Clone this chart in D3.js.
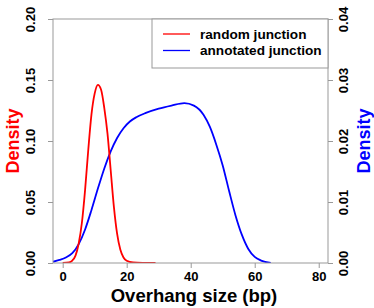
<!DOCTYPE html>
<html>
<head>
<meta charset="utf-8">
<script src="https://cdn.jsdelivr.net/npm/d3@7"></script>
<style>
  body { margin: 0; background: #fff; }
  text { font-family: "Liberation Sans", Arial, sans-serif; font-weight: bold; }
</style>
</head>
<body>
<svg id="chart"></svg>
<script>
// values
const redX = [0, 2, 3, 4, 5, 6, 7, 8, 9, 10, 11, 12, 13, 14, 15, 16, 17, 18, 19, 20, 22, 25, 29];
const redY = [0, 0.0005, 0.002, 0.006, 0.016, 0.033, 0.060, 0.093, 0.122, 0.139, 0.146, 0.142, 0.127, 0.106, 0.076, 0.046, 0.024, 0.011, 0.0045, 0.0018, 0.0004, 0.0001, 0];

const blueX = [-3, -1, 1, 3, 5, 7, 9, 11, 13, 15, 17, 19, 21, 23, 26, 30, 34, 38, 41, 44, 46, 48, 50, 52, 54, 56, 58, 60, 62, 65];
const blueY = [0.0002, 0.0005, 0.0009, 0.0016, 0.0031, 0.0055, 0.0087, 0.0122, 0.0155, 0.0183, 0.0205, 0.0221, 0.0232, 0.0239, 0.0246, 0.0253, 0.0258, 0.0262, 0.0258, 0.0243, 0.0223, 0.0194, 0.0160, 0.0118, 0.0078, 0.0046, 0.0023, 0.0010, 0.0004, 0];

const xTicks = [0, 20, 40, 60, 80];
const leftTicks = [0, 0.05, 0.10, 0.15, 0.20];
const rightTicks = [0, 0.01, 0.02, 0.03, 0.04];
const legendLabels = ['random junction', 'annotated junction'];
const legendColors = ['#ff0000', '#0000ff'];

const size = {w: 374, h: 308};
const plot = {l: 53, r: 328, t: 19, b: 263};
const axisColor = '#999';

const svg = d3.select('svg#chart')
    .attr('width', size.w)
    .attr('height', size.h);

svg.append('rect').attr('width', size.w).attr('height', size.h).attr('fill', '#fff');

const x = d3.scaleLinear().domain([-3.03, 82.9]).range([plot.l, plot.r]);
const yL = d3.scaleLinear().domain([0, 0.20]).range([plot.b, plot.t]);
const yR = d3.scaleLinear().domain([0, 0.04]).range([plot.b, plot.t]);

// clip for curves
svg.append('clipPath').attr('id', 'clip')
    .append('rect')
    .attr('x', plot.l).attr('y', plot.t)
    .attr('width', plot.r - plot.l).attr('height', plot.b - plot.t);

const g = svg.append('g').attr('clip-path', 'url(#clip)');

const redLine = d3.line()
    .x(d => x(d[0]))
    .y(d => yL(d[1]))
    .curve(d3.curveMonotoneX);

const blueLine = d3.line()
    .x(d => x(d[0]))
    .y(d => yR(d[1]))
    .curve(d3.curveMonotoneX);

g.append('path')
    .datum(blueX.map((v, i) => [v, blueY[i]]))
    .attr('d', blueLine)
    .attr('fill', 'none')
    .attr('stroke', '#0000ff')
    .attr('stroke-width', 1.8);

g.append('path')
    .datum(redX.map((v, i) => [v, redY[i]]))
    .attr('d', redLine)
    .attr('fill', 'none')
    .attr('stroke', '#ff0000')
    .attr('stroke-width', 1.8);

// box
svg.append('rect')
    .attr('x', plot.l).attr('y', plot.t)
    .attr('width', plot.r - plot.l).attr('height', plot.b - plot.t)
    .attr('fill', 'none')
    .attr('stroke', axisColor)
    .attr('stroke-width', 1);

// axes
const fmt = d3.format('.2f');

const xAxis = svg.append('g')
    .attr('transform', `translate(0, ${plot.b})`)
    .call(d3.axisBottom(x).tickValues(xTicks).tickSize(5).tickPadding(4).tickSizeOuter(0));

const leftAxis = svg.append('g')
    .attr('transform', `translate(${plot.l}, 0)`)
    .call(d3.axisLeft(yL).tickValues(leftTicks).tickFormat(fmt).tickSize(5).tickSizeOuter(0));

const rightAxis = svg.append('g')
    .attr('transform', `translate(${plot.r}, 0)`)
    .call(d3.axisRight(yR).tickValues(rightTicks).tickFormat(fmt).tickSize(5).tickSizeOuter(0));

[xAxis, leftAxis, rightAxis].forEach(a => {
    a.select('.domain').remove();
    a.selectAll('line').attr('stroke', axisColor);
    a.selectAll('text')
        .attr('fill', '#000')
        .style('font-size', '13px')
        .style('font-family', '"Liberation Sans", Arial, sans-serif')
        .style('font-weight', 'bold');
});

xAxis.selectAll('text').attr('y', 9);

leftAxis.selectAll('text')
    .attr('text-anchor', 'middle')
    .attr('dy', null)
    .attr('x', null)
    .attr('transform', 'translate(-14, 0) rotate(-90)')
    .attr('y', -4);

rightAxis.selectAll('text')
    .attr('text-anchor', 'middle')
    .attr('dy', null)
    .attr('x', null)
    .attr('transform', 'translate(20, 0) rotate(-90)')
    .attr('y', 0);

// axis titles
svg.append('text')
    .attr('x', 194).attr('y', 302)
    .attr('text-anchor', 'middle')
    .style('font-size', '18.5px')
    .text('Overhang size (bp)');

svg.append('text')
    .attr('transform', `translate(19, ${(plot.t + plot.b) / 2}) rotate(-90)`)
    .attr('text-anchor', 'middle')
    .attr('fill', '#ff0000')
    .style('font-size', '18px')
    .text('Density');

svg.append('text')
    .attr('transform', `translate(370, ${(plot.t + plot.b) / 2}) rotate(-90)`)
    .attr('text-anchor', 'middle')
    .attr('fill', '#0000ff')
    .style('font-size', '18px')
    .text('Density');

// legend
const legend = svg.append('g');
legend.append('rect')
    .attr('x', 152).attr('y', plot.t)
    .attr('width', plot.r - 152).attr('height', 49)
    .attr('fill', '#fff')
    .attr('stroke', axisColor);

legend.selectAll('line.key')
    .data(legendLabels)
    .join('line')
    .classed('key', true)
    .attr('x1', 163).attr('x2', 190)
    .attr('y1', (d, i) => 34 + i * 16.5)
    .attr('y2', (d, i) => 34 + i * 16.5)
    .attr('stroke', (d, i) => legendColors[i])
    .attr('stroke-width', 1.3);

legend.selectAll('text')
    .data(legendLabels)
    .join('text')
    .attr('x', 200)
    .attr('y', (d, i) => 38.5 + i * 16.5)
    .style('font-size', '13.6px')
    .text(d => d);
</script>
</body>
</html>
